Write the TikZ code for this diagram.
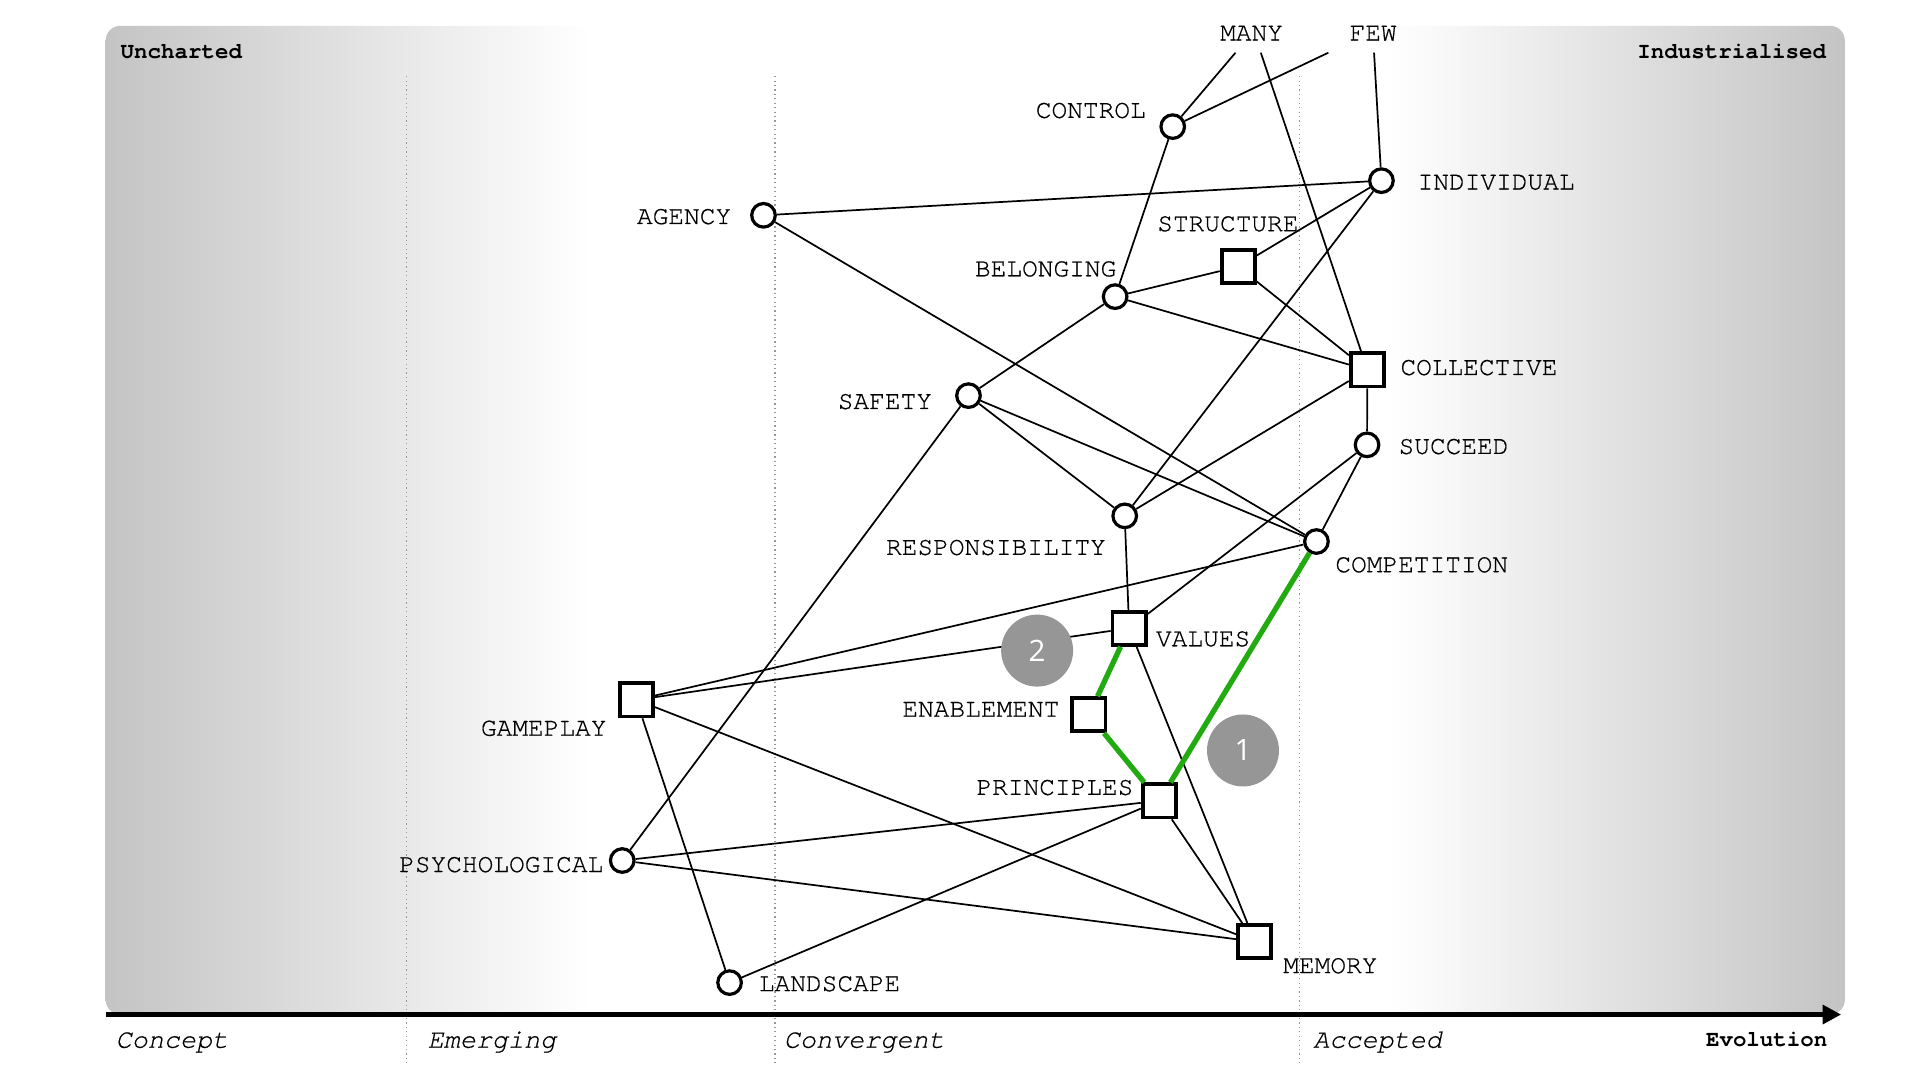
\documentclass[tikz,border=0pt]{standalone}
\usepackage{fontspec}
\newfontfamily\labelfont{texgyrecursor}[Extension=.otf, UprightFont=*-regular, BoldFont=*-bold, ItalicFont=*-italic, BoldItalicFont=*-bolditalic]
\newfontfamily\heavylabelfont{texgyrecursor-regular.otf}[FakeBold=0.6]
\newfontfamily\heavystagefont{texgyrecursor-italic.otf}[FakeBold=0.6]
\newfontfamily\numfont{Open Sans}
\usetikzlibrary{arrows.meta}
\definecolor{edgegray}{RGB}{196,196,196}
\definecolor{dotgray}{RGB}{150,150,150}
\definecolor{anngray}{RGB}{150,150,150}
\definecolor{pathgreen}{RGB}{34,170,17}
\pgfdeclarehorizontalshading{wardleybg}{100bp}{color(0bp)=(edgegray); color(25bp)=(edgegray); color(38.9bp)=(white); color(61.85bp)=(white); color(75bp)=(edgegray); color(100bp)=(edgegray)}
\begin{document}
\begin{tikzpicture}[x=1pt,y=-1pt,
  comp/.style={circle, draw=black, fill=white, line width=2.6pt, minimum size=19.2pt, inner sep=0pt},
  sq/.style={rectangle, draw=black, fill=white, line width=3.1pt, minimum size=27pt, inner sep=0pt},
  lbl/.style={font=\heavylabelfont\fontsize{21.3}{24}\selectfont, inner sep=0pt},
  hdr/.style={font=\labelfont\bfseries\fontsize{18.3}{21}\selectfont, inner sep=0pt},
  stage/.style={font=\heavystagefont\fontsize{21.8}{24}\selectfont, inner sep=0pt, anchor=base west},
  link/.style={line width=1.4pt, draw=black},
  greenlink/.style={line width=4.3pt, draw=pathgreen},
  ann/.style={circle, fill=anngray, minimum size=58.6pt, inner sep=0pt, text=white, font=\numfont\fontsize{24}{26}\selectfont},
  stagesep/.style={draw=dotgray, line width=1.2pt, dash pattern=on 1pt off 2.6pt},
]
\useasboundingbox (0,0) rectangle (1563.2,879.3);
% background
\shade[shading=wardleybg, rounded corners=12pt] (86,21) rectangle (1502,826);
% stage separators
\draw[stagesep] (331,62) -- (331,866);
\draw[stagesep] (631,62) -- (631,866);
\draw[stagesep] (1058,62) -- (1058,866);
% axis
\draw[line width=3.8pt, -{Triangle[length=15pt,width=15pt]}] (86,826) -- (1499,826);
% headers
\node[hdr, anchor=base west] (uncharted) at (98,47.5) {Uncharted};
\node[hdr, anchor=base east] (industrialised) at (1487,47.5) {Industrialised};
\node[stage] (concept) at (94,853) {Concept};
\node[stage] (emerging) at (348,853) {Emerging};
\node[stage] (convergent) at (638,853) {Convergent};
\node[stage] (accepted) at (1069,853) {Accepted};
\node[hdr, anchor=base east] (evolution) at (1488,852) {Evolution};

% MANY / FEW
\node[lbl] (many) at (1019,27) {MANY};
\node[lbl] (few) at (1118,27) {FEW};
\coordinate (many1) at (1005.9,42.9);
\coordinate (many2) at (1026.5,42.9);
\coordinate (few1) at (1081.5,42.9);
\coordinate (few2) at (1118.7,42.9);

% components
\node[comp] (control) at (954.8,103.1) {};
\node[comp] (individual) at (1124.7,147.1) {};
\node[comp] (agency) at (621.6,175.3) {};
\node[sq] (structure) at (1008.1,217.1) {};
\node[comp] (belonging) at (907.9,241.5) {};
\node[sq] (collective) at (1113.2,301.2) {};
\node[comp] (safety) at (788.5,322.1) {};
\node[comp] (succeed) at (1113,362.2) {};
\node[comp] (responsibility) at (915.7,420) {};
\node[comp] (competition) at (1071.8,440.9) {};
\node[sq] (values) at (919.3,511.5) {};
\node[sq] (gameplay) at (518.1,569.8) {};
\node[sq] (enablement) at (886.6,581.9) {};
\node[sq] (principles) at (943.8,652) {};
\node[comp] (psychological) at (506.6,700.6) {};
\node[sq] (memory) at (1021.6,766.6) {};
\node[comp] (landscape) at (594,800) {};

% labels
\node[lbl, anchor=east] (controlL) at (933,90) {CONTROL};
\node[lbl, anchor=west] (individualL) at (1154,148.5) {INDIVIDUAL};
\node[lbl, anchor=east] (agencyL) at (595.5,176.4) {AGENCY};
\node[lbl, anchor=west] (structureL) at (942,182.3) {STRUCTURE};
\node[lbl, anchor=west] (belongingL) at (793.6,219) {BELONGING};
\node[lbl, anchor=west] (collectiveL) at (1140,299.3) {COLLECTIVE};
\node[lbl, anchor=east] (safetyL) at (759,327) {SAFETY};
\node[lbl, anchor=west] (succeedL) at (1138.5,363.6) {SUCCEED};
\node[lbl, anchor=west] (responsibilityL) at (721.2,445.8) {RESPONSIBILITY};
\node[lbl, anchor=west] (competitionL) at (1087,459.9) {COMPETITION};
\node[lbl, anchor=west] (valuesL) at (941,520.2) {VALUES};
\node[lbl, anchor=west] (enablementL) at (734.5,577.5) {ENABLEMENT};
\node[lbl, anchor=east] (gameplayL) at (494,593) {GAMEPLAY};
\node[lbl, anchor=east] (principlesL) at (923,641.2) {PRINCIPLES};
\node[lbl, anchor=west] (psychologicalL) at (324.8,704) {PSYCHOLOGICAL};
\node[lbl, anchor=west] (memoryL) at (1044.6,786.3) {MEMORY};
\node[lbl, anchor=west] (landscapeL) at (617.7,801) {LANDSCAPE};

% links
\draw[link] (control) -- (many1);
\draw[link] (control) -- (few1);
\draw[link] (individual) -- (few2);
\draw[link] (collective) -- (many2);
\draw[link] (agency) -- (individual);
\draw[link] (agency) -- (competition);
\draw[link] (control) -- (belonging);
\draw[link] (belonging) -- (structure);
\draw[link] (belonging) -- (collective);
\draw[link] (structure) -- (individual);
\draw[link] (structure) -- (collective);
\draw[link] (individual) -- (responsibility);
\draw[link] (belonging) -- (safety);
\draw[link] (safety) -- (responsibility);
\draw[link] (safety) -- (competition);
\draw[link] (safety) -- (psychological);
\draw[link] (collective) -- (responsibility);
\draw[link] (collective) -- (succeed);
\draw[link] (succeed) -- (competition);
\draw[link] (succeed) -- (values);
\draw[link] (responsibility) -- (values);
\draw[link] (competition) -- (gameplay);
\draw[link] (values) -- (gameplay);
\draw[link] (values) -- (memory);
\draw[link] (gameplay) -- (memory);
\draw[link] (gameplay) -- (landscape);
\draw[link] (principles) -- (psychological);
\draw[link] (principles) -- (landscape);
\draw[link] (principles) -- (memory);
\draw[link] (psychological) -- (memory);
\draw[greenlink] (values) -- (enablement);
\draw[greenlink] (enablement) -- (principles);
\draw[greenlink] (principles) -- (competition);

% annotations
\node[ann] (ann2) at (844.4,529.7) {2};
\node[ann] (ann1) at (1012,611) {1};
\end{tikzpicture}
\end{document}
